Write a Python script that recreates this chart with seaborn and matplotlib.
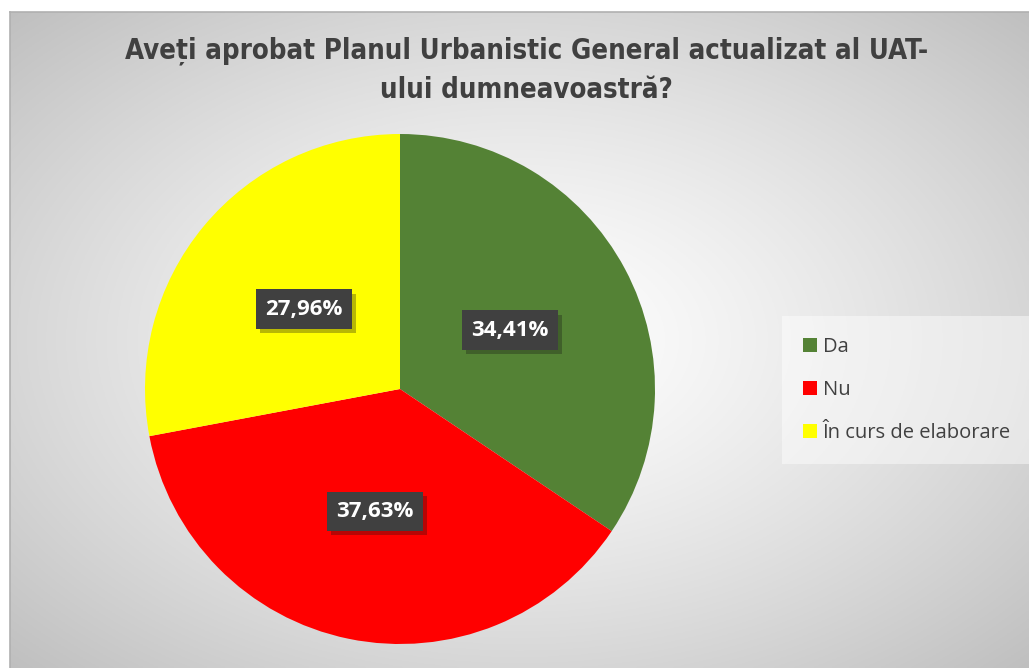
import numpy as np
import matplotlib
matplotlib.use("Agg")
import matplotlib.pyplot as plt
import matplotlib.patheffects as pe
from matplotlib.patches import Patch
import seaborn as sns

# data
categories = ["Da", "Nu", "În curs de elaborare"]
shares = [34.41, 37.63, 27.96]
colors = ["#548235", "#FF0000", "#FFFF00"]
title = "Aveți aprobat Planul Urbanistic General actualizat al UAT-\nului dumneavoastră?"

sns.set_theme(style="white")
plt.rcParams["font.family"] = ["Open Sans", "DejaVu Sans"]

fig = plt.figure(figsize=(10.29, 6.68), dpi=100)
fig.patch.set_facecolor("white")

# chart area with radial gradient
bg = fig.add_axes([10 / 1029, 0, 1 - 10 / 1029, 1 - 12 / 668])
yy, xx = np.mgrid[0:1:300j, 0:1:460j]
r = np.sqrt(((xx - 0.5) / 0.5) ** 2 + ((yy - 0.5) / 0.5) ** 2) / np.sqrt(2)
shade = 1.0 - 0.25 * r ** 1.3
bg.imshow(np.dstack([shade] * 3), extent=[0, 1, 0, 1], aspect="auto", zorder=0)
bg.set_xlim(0, 1)
bg.set_ylim(0, 1)
bg.set_xticks([])
bg.set_yticks([])
for side in ["right", "bottom"]:
    bg.spines[side].set_visible(False)
for side in ["left", "top"]:
    bg.spines[side].set_color("#b0b0b0")
    bg.spines[side].set_linewidth(1.2)

# pie
ax = fig.add_axes([145 / 1029, 24 / 668, 510 / 1029, 510 / 668])
wedges, _, autotexts = ax.pie(
    shares,
    colors=colors,
    startangle=90,
    counterclock=False,
    autopct=lambda p: f"{p:.2f}%".replace(".", ","),
    pctdistance=0.49,
    radius=1.0,
    wedgeprops=dict(linewidth=0),
)
ax.set_xlim(-1, 1)
ax.set_ylim(-1, 1)
ax.set_aspect("equal")
for t in autotexts:
    t.set_color("white")
    t.set_fontsize(16)
    t.set_fontweight("bold")
    t.set_bbox(dict(boxstyle="square,pad=0.42", facecolor="#404040", edgecolor="none"))
    t.get_bbox_patch().set_path_effects([pe.SimplePatchShadow(offset=(3, -3), alpha=0.3), pe.Normal()])

fig.text(0.512, 1 - 70 / 668, title, ha="center", va="center", fontsize=19.8,
         fontweight="bold", color="#404040", linespacing=1.5,
         family=["DejaVu Sans"], fontstretch="condensed")

handles = [Patch(facecolor=c, edgecolor="none") for c in colors]
leg = fig.legend(handles, categories, loc="center left", bbox_to_anchor=(788 / 1029, 1 - 390 / 668),
                 frameon=True, fontsize=14.5, labelcolor="#404040", handlelength=0.68,
                 handleheight=0.68, handletextpad=0.3, labelspacing=1.15,
                 borderpad=0.75, borderaxespad=0)
leg.get_frame().set_facecolor("white")
leg.get_frame().set_alpha(0.45)
leg.get_frame().set_edgecolor("none")
leg.get_frame().set_boxstyle("square")

fig.savefig("out.png", dpi=100)
